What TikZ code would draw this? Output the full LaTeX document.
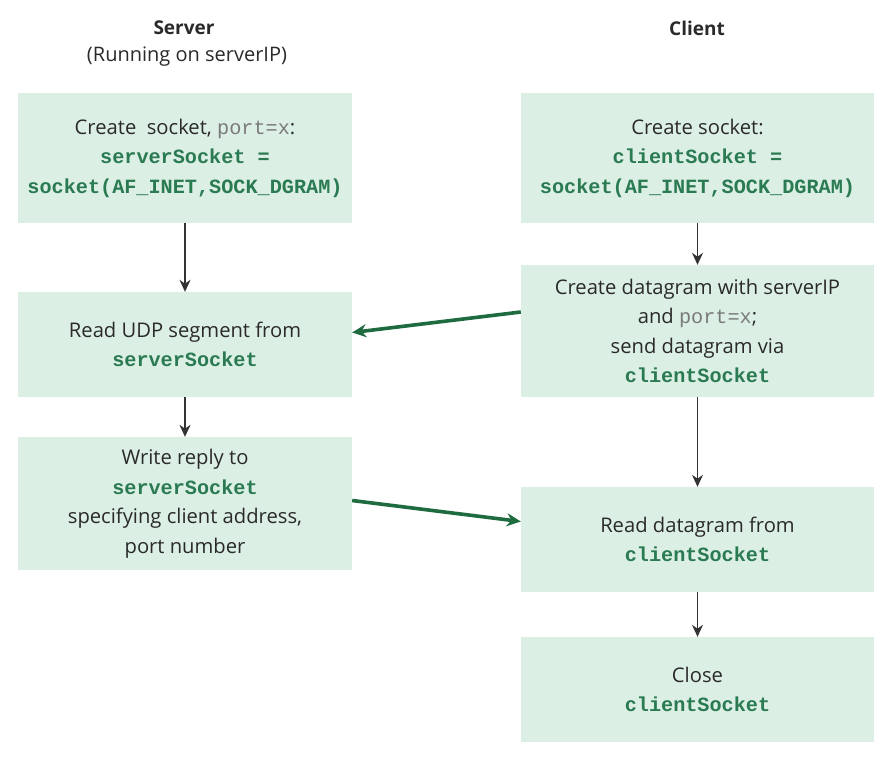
\documentclass[tikz,border=0pt]{standalone}
\usepackage{fontspec}
\setmainfont{Open Sans}
\newfontfamily\codefont{Liberation Mono}
\usetikzlibrary{arrows.meta}
\definecolor{boxfill}{HTML}{DCEFE5}
\definecolor{codegreen}{HTML}{2A7A52}
\definecolor{arrowgreen}{HTML}{1E6B40}
\definecolor{portgray}{HTML}{7A7A7A}
\definecolor{textdark}{HTML}{2A2A2A}
\newcommand\cd[1]{{\codefont\bfseries\fontsize{20.2}{29}\selectfont\color{codegreen}#1}}
\newcommand\pt[1]{{\codefont\fontsize{20.2}{29}\selectfont\color{portgray}#1}}
\begin{document}
\begin{tikzpicture}[x=1pt,y=-1pt,
  stepbox/.style={fill=boxfill,draw=none,inner sep=0pt,align=center,
    text=textdark,font=\fontsize{20.2}{29.5}\selectfont},
  sbox/.style={stepbox,minimum width=334pt},
  cbox/.style={stepbox,minimum width=353pt},
  flow/.style={draw=black!80,line width=1.4pt,-{Stealth[length=12pt,width=11pt]}},
  msg/.style={draw=arrowgreen,line width=3.6pt,-{Stealth[length=14pt,width=13pt]}},
  head/.style={text=textdark,font=\fontsize{20}{24}\selectfont}]
\useasboundingbox[fill=white] (0,0) rectangle (888,769);
\node[head,font=\fontsize{19}{24}\selectfont\bfseries] (sh) at (184,28) {Server};
\node[head] (sh2) at (187,57) {(Running on serverIP)};
\node[head,font=\fontsize{19}{24}\selectfont\bfseries] (ch) at (697,28) {Client};

\node[sbox,minimum height=130pt] (s1) at (185,158)
  {Create\ \ socket, \pt{port=x}:\\\cd{serverSocket =}\\\cd{socket(AF\_INET,SOCK\_DGRAM)}};
\node[sbox,minimum height=105pt] (s2) at (185,344.5)
  {Read UDP segment from\\\cd{serverSocket}};
\node[sbox,minimum height=133pt] (s3) at (185,503.5)
  {Write reply to\\\cd{serverSocket}\\specifying client address,\\port number};

\node[cbox,minimum height=130pt] (c1) at (697.5,158)
  {Create socket:\\\cd{clientSocket =}\\\cd{socket(AF\_INET,SOCK\_DGRAM)}};
\node[cbox,minimum height=132pt] (c2) at (697.5,331)
  {Create datagram with serverIP\\and \pt{port=x};\\send datagram via\\\cd{clientSocket}};
\node[cbox,minimum height=105pt] (c3) at (697.5,539.5)
  {Read datagram from\\\cd{clientSocket}};
\node[cbox,minimum height=105pt] (c4) at (697.5,689.5)
  {Close\\\cd{clientSocket}};

\draw[flow] (s1) -- (s2);
\draw[flow] (s2) -- (s3);
\draw[flow] (c1) -- (c2);
\draw[flow] (c2) -- (c3);
\draw[flow] (c3) -- (c4);

\draw[msg] ([yshift=19pt]c2.west) -- ([yshift=12pt]s2.east);
\draw[msg] ([yshift=3pt]s3.east) -- ([yshift=18pt]c3.west);
\end{tikzpicture}
\end{document}
